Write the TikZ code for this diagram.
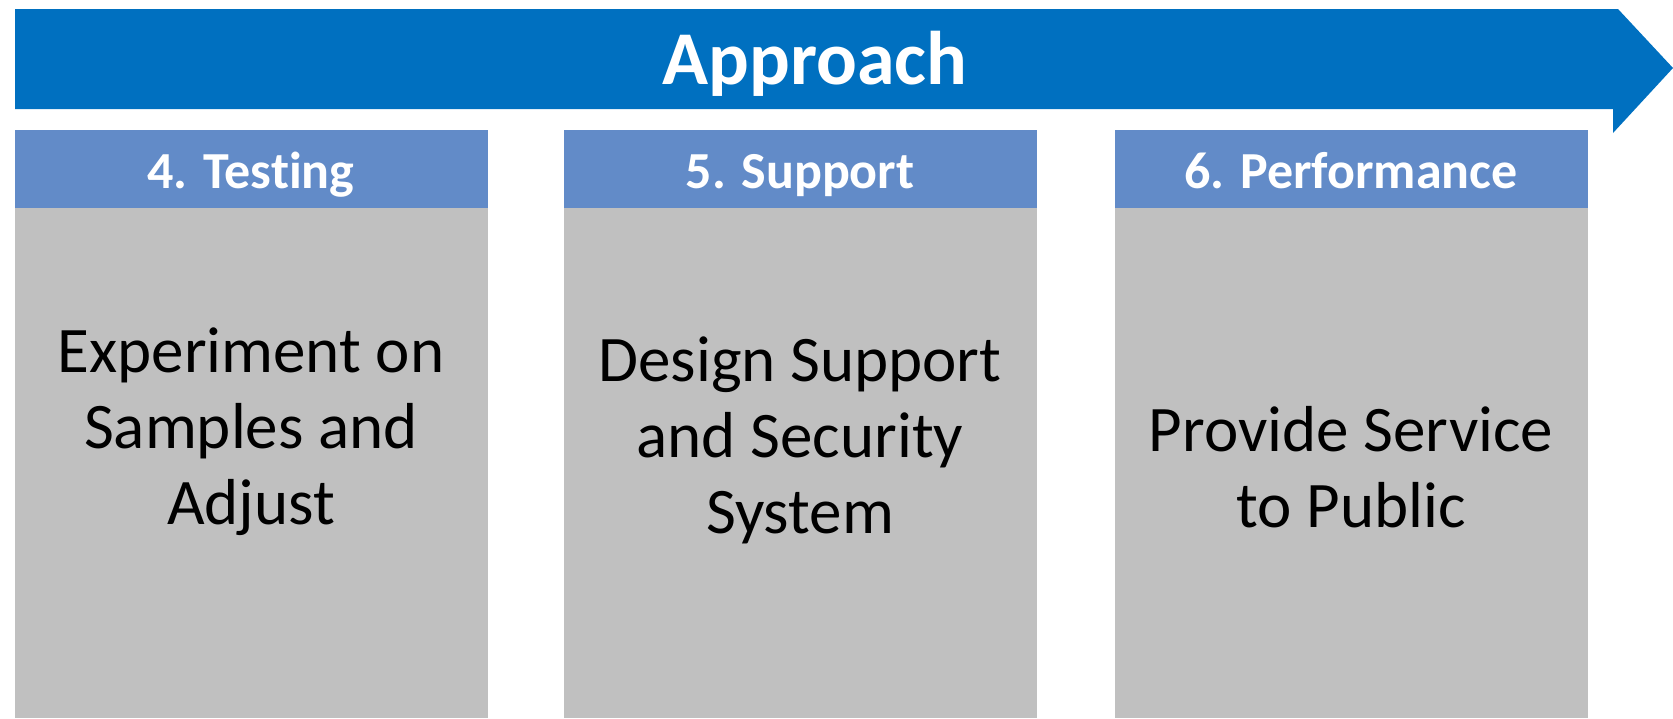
\documentclass[tikz,border=0pt]{standalone}
\usepackage{fontspec}
\setmainfont{Carlito}[Ligatures=NoCommon]
\definecolor{barblue}{RGB}{0,112,192}
\definecolor{headblue}{RGB}{98,139,200}
\definecolor{bodygrey}{RGB}{192,192,192}

\begin{document}
\begin{tikzpicture}[x=1pt,y=-1pt]
		\tikzset{stepbody/.style={fill=bodygrey, minimum width=473pt, minimum height=510pt, inner sep=0pt, anchor=north west}}
		\tikzset{stephead/.style={fill=headblue, minimum width=473pt, minimum height=78pt, inner sep=0pt, anchor=north west}}
		\tikzset{headtext/.style={text=white, anchor=base, font=\bfseries\fontsize{52}{60}\selectfont}}
		\tikzset{bodytext/.style={align=center, anchor=base, font=\fontsize{65}{76}\selectfont}} %base is the last line
		\useasboundingbox (0,0) rectangle (1673,718);
		\fill[barblue] (15,9) -- (1618,9) -- (1673,68) -- (1613,133) -- (1613,109) -- (15,109) -- cycle; %arrow behind the title
		\node[text=white, anchor=base, font=\bfseries\fontsize{76}{90}\selectfont] (approach) at (815,84) {Approach};
		\node[stepbody] (testingbody) at (15,208) {};
		\node[stepbody] (supportbody) at (564,208) {};
		\node[stepbody] (perfbody) at (1115,208) {};
		\node[stephead] (testinghead) at (15,130) {};
		\node[stephead] (supporthead) at (564,130) {};
		\node[stephead] (perfhead) at (1115,130) {};
		\node[headtext] (testinglabel) at (251,188) {4. Testing};
		\node[headtext] (supportlabel) at (800,188) {5. Support};
		\node[headtext] (perflabel) at (1351,188) {6. Performance};
		\node[bodytext] (testingtext) at (251,524) {Experiment on\\Samples and\\Adjust};
		\node[bodytext] (supporttext) at (800,533) {Design Support\\and Security\\System};
		\node[bodytext] (perftext) at (1351,527) {Provide Service\\to Public};
\end{tikzpicture}
\end{document}
